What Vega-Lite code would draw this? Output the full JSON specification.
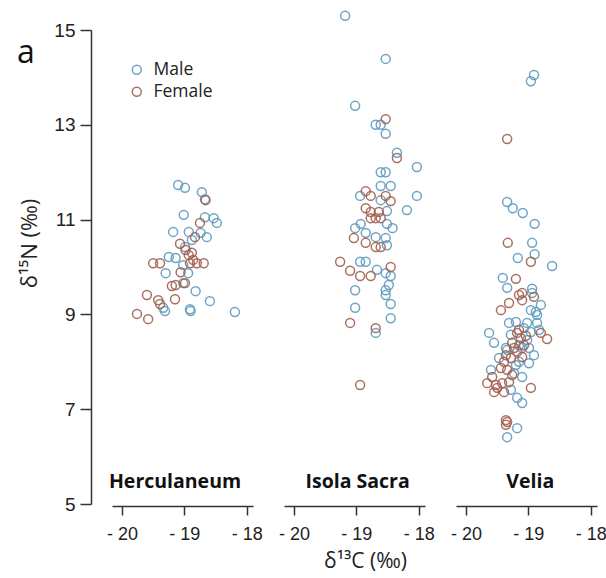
{
"$schema": "https://vega.github.io/schema/vega-lite/v6.json",
"padding": {"left": 17, "top": 8, "right": 0, "bottom": 12},
"config": {"view": {"stroke": null}, "font": "Liberation Sans"},
"spacing": 15,
"datasets": {"pts": [
{"site":"Herculaneum","sex":"Male","d13C":-19.10,"d15N":11.73},{"site":"Herculaneum","sex":"Male","d13C":-18.99,"d15N":11.67},{"site":"Herculaneum","sex":"Male","d13C":-18.72,"d15N":11.58},{"site":"Herculaneum","sex":"Male","d13C":-18.67,"d15N":11.43},{"site":"Herculaneum","sex":"Male","d13C":-19.01,"d15N":11.10},{"site":"Herculaneum","sex":"Male","d13C":-18.67,"d15N":11.05},{"site":"Herculaneum","sex":"Male","d13C":-18.53,"d15N":11.03},{"site":"Herculaneum","sex":"Male","d13C":-18.48,"d15N":10.93},{"site":"Herculaneum","sex":"Male","d13C":-19.18,"d15N":10.74},{"site":"Herculaneum","sex":"Male","d13C":-18.93,"d15N":10.74},{"site":"Herculaneum","sex":"Male","d13C":-18.64,"d15N":10.63},{"site":"Herculaneum","sex":"Male","d13C":-18.74,"d15N":10.72},{"site":"Herculaneum","sex":"Male","d13C":-18.88,"d15N":10.57},{"site":"Herculaneum","sex":"Male","d13C":-18.99,"d15N":10.42},{"site":"Herculaneum","sex":"Male","d13C":-19.25,"d15N":10.21},{"site":"Herculaneum","sex":"Male","d13C":-19.14,"d15N":10.19},{"site":"Herculaneum","sex":"Male","d13C":-19.02,"d15N":10.04},{"site":"Herculaneum","sex":"Male","d13C":-19.30,"d15N":9.87},{"site":"Herculaneum","sex":"Male","d13C":-18.94,"d15N":9.87},{"site":"Herculaneum","sex":"Male","d13C":-19.02,"d15N":9.66},{"site":"Herculaneum","sex":"Male","d13C":-18.82,"d15N":9.49},{"site":"Herculaneum","sex":"Male","d13C":-19.34,"d15N":9.14},{"site":"Herculaneum","sex":"Male","d13C":-19.31,"d15N":9.07},{"site":"Herculaneum","sex":"Male","d13C":-18.91,"d15N":9.11},{"site":"Herculaneum","sex":"Male","d13C":-18.90,"d15N":9.07},{"site":"Herculaneum","sex":"Male","d13C":-18.59,"d15N":9.28},{"site":"Herculaneum","sex":"Male","d13C":-18.19,"d15N":9.05},
{"site":"Herculaneum","sex":"Female","d13C":-18.66,"d15N":11.41},{"site":"Herculaneum","sex":"Female","d13C":-18.75,"d15N":10.93},{"site":"Herculaneum","sex":"Female","d13C":-18.83,"d15N":10.63},{"site":"Herculaneum","sex":"Female","d13C":-19.07,"d15N":10.49},{"site":"Herculaneum","sex":"Female","d13C":-18.98,"d15N":10.36},{"site":"Herculaneum","sex":"Female","d13C":-18.93,"d15N":10.25},{"site":"Herculaneum","sex":"Female","d13C":-18.88,"d15N":10.30},{"site":"Herculaneum","sex":"Female","d13C":-19.50,"d15N":10.08},{"site":"Herculaneum","sex":"Female","d13C":-19.39,"d15N":10.08},{"site":"Herculaneum","sex":"Female","d13C":-18.91,"d15N":10.08},{"site":"Herculaneum","sex":"Female","d13C":-18.80,"d15N":10.08},{"site":"Herculaneum","sex":"Female","d13C":-18.69,"d15N":10.08},{"site":"Herculaneum","sex":"Female","d13C":-19.06,"d15N":9.89},{"site":"Herculaneum","sex":"Female","d13C":-19.20,"d15N":9.60},{"site":"Herculaneum","sex":"Female","d13C":-19.14,"d15N":9.62},{"site":"Herculaneum","sex":"Female","d13C":-18.99,"d15N":9.66},{"site":"Herculaneum","sex":"Female","d13C":-19.60,"d15N":9.41},{"site":"Herculaneum","sex":"Female","d13C":-19.42,"d15N":9.30},{"site":"Herculaneum","sex":"Female","d13C":-19.39,"d15N":9.22},{"site":"Herculaneum","sex":"Female","d13C":-19.15,"d15N":9.32},{"site":"Herculaneum","sex":"Female","d13C":-19.76,"d15N":9.01},{"site":"Herculaneum","sex":"Female","d13C":-19.58,"d15N":8.90},{"site":"Herculaneum","sex":"Female","d13C":-18.86,"d15N":10.15},
{"site":"Isola Sacra","sex":"Male","d13C":-19.18,"d15N":15.30},{"site":"Isola Sacra","sex":"Male","d13C":-18.53,"d15N":14.39},{"site":"Isola Sacra","sex":"Male","d13C":-19.02,"d15N":13.40},{"site":"Isola Sacra","sex":"Male","d13C":-18.69,"d15N":13.00},{"site":"Isola Sacra","sex":"Male","d13C":-18.61,"d15N":13.00},{"site":"Isola Sacra","sex":"Male","d13C":-18.53,"d15N":12.81},{"site":"Isola Sacra","sex":"Male","d13C":-18.35,"d15N":12.41},{"site":"Isola Sacra","sex":"Male","d13C":-18.03,"d15N":12.11},{"site":"Isola Sacra","sex":"Male","d13C":-18.61,"d15N":12.00},{"site":"Isola Sacra","sex":"Male","d13C":-18.53,"d15N":12.00},{"site":"Isola Sacra","sex":"Male","d13C":-18.61,"d15N":11.71},{"site":"Isola Sacra","sex":"Male","d13C":-18.45,"d15N":11.71},{"site":"Isola Sacra","sex":"Male","d13C":-18.03,"d15N":11.50},{"site":"Isola Sacra","sex":"Male","d13C":-18.94,"d15N":11.50},{"site":"Isola Sacra","sex":"Male","d13C":-18.51,"d15N":11.18},{"site":"Isola Sacra","sex":"Male","d13C":-18.19,"d15N":11.20},{"site":"Isola Sacra","sex":"Male","d13C":-18.93,"d15N":10.91},{"site":"Isola Sacra","sex":"Male","d13C":-18.51,"d15N":10.91},{"site":"Isola Sacra","sex":"Male","d13C":-19.02,"d15N":10.82},{"site":"Isola Sacra","sex":"Male","d13C":-18.42,"d15N":10.82},{"site":"Isola Sacra","sex":"Male","d13C":-18.85,"d15N":10.72},{"site":"Isola Sacra","sex":"Male","d13C":-18.69,"d15N":10.63},{"site":"Isola Sacra","sex":"Male","d13C":-18.53,"d15N":10.61},{"site":"Isola Sacra","sex":"Male","d13C":-18.51,"d15N":10.46},{"site":"Isola Sacra","sex":"Male","d13C":-18.94,"d15N":10.11},{"site":"Isola Sacra","sex":"Male","d13C":-18.85,"d15N":10.11},{"site":"Isola Sacra","sex":"Male","d13C":-18.67,"d15N":9.94},{"site":"Isola Sacra","sex":"Male","d13C":-18.53,"d15N":9.87},{"site":"Isola Sacra","sex":"Male","d13C":-18.45,"d15N":9.81},{"site":"Isola Sacra","sex":"Male","d13C":-19.02,"d15N":9.51},{"site":"Isola Sacra","sex":"Male","d13C":-18.53,"d15N":9.51},{"site":"Isola Sacra","sex":"Male","d13C":-18.48,"d15N":9.62},{"site":"Isola Sacra","sex":"Male","d13C":-18.53,"d15N":9.41},{"site":"Isola Sacra","sex":"Male","d13C":-19.02,"d15N":9.14},{"site":"Isola Sacra","sex":"Male","d13C":-18.45,"d15N":9.22},{"site":"Isola Sacra","sex":"Male","d13C":-18.45,"d15N":8.92},{"site":"Isola Sacra","sex":"Male","d13C":-18.69,"d15N":8.61},{"site":"Isola Sacra","sex":"Male","d13C":-18.61,"d15N":11.41},
{"site":"Isola Sacra","sex":"Female","d13C":-18.53,"d15N":13.12},{"site":"Isola Sacra","sex":"Female","d13C":-18.35,"d15N":12.30},{"site":"Isola Sacra","sex":"Female","d13C":-18.85,"d15N":11.60},{"site":"Isola Sacra","sex":"Female","d13C":-18.77,"d15N":11.50},{"site":"Isola Sacra","sex":"Female","d13C":-18.53,"d15N":11.50},{"site":"Isola Sacra","sex":"Female","d13C":-18.45,"d15N":11.39},{"site":"Isola Sacra","sex":"Female","d13C":-18.85,"d15N":11.24},{"site":"Isola Sacra","sex":"Female","d13C":-18.77,"d15N":11.03},{"site":"Isola Sacra","sex":"Female","d13C":-18.69,"d15N":11.03},{"site":"Isola Sacra","sex":"Female","d13C":-18.61,"d15N":11.03},{"site":"Isola Sacra","sex":"Female","d13C":-18.77,"d15N":11.16},{"site":"Isola Sacra","sex":"Female","d13C":-18.64,"d15N":11.16},{"site":"Isola Sacra","sex":"Female","d13C":-19.04,"d15N":10.61},{"site":"Isola Sacra","sex":"Female","d13C":-18.85,"d15N":10.51},{"site":"Isola Sacra","sex":"Female","d13C":-18.69,"d15N":10.42},{"site":"Isola Sacra","sex":"Female","d13C":-18.61,"d15N":10.42},{"site":"Isola Sacra","sex":"Female","d13C":-19.26,"d15N":10.11},{"site":"Isola Sacra","sex":"Female","d13C":-19.10,"d15N":9.92},{"site":"Isola Sacra","sex":"Female","d13C":-18.94,"d15N":9.81},{"site":"Isola Sacra","sex":"Female","d13C":-18.77,"d15N":9.81},{"site":"Isola Sacra","sex":"Female","d13C":-18.45,"d15N":10.00},{"site":"Isola Sacra","sex":"Female","d13C":-19.10,"d15N":8.82},{"site":"Isola Sacra","sex":"Female","d13C":-18.69,"d15N":8.71},{"site":"Isola Sacra","sex":"Female","d13C":-18.94,"d15N":7.51},
{"site":"Velia","sex":"Male","d13C":-18.91,"d15N":14.05},{"site":"Velia","sex":"Male","d13C":-18.96,"d15N":13.92},{"site":"Velia","sex":"Male","d13C":-19.34,"d15N":11.37},{"site":"Velia","sex":"Male","d13C":-19.25,"d15N":11.24},{"site":"Velia","sex":"Male","d13C":-19.09,"d15N":11.14},{"site":"Velia","sex":"Male","d13C":-18.90,"d15N":10.91},{"site":"Velia","sex":"Male","d13C":-18.94,"d15N":10.51},{"site":"Velia","sex":"Male","d13C":-18.90,"d15N":10.27},{"site":"Velia","sex":"Male","d13C":-19.17,"d15N":10.19},{"site":"Velia","sex":"Male","d13C":-18.62,"d15N":10.02},{"site":"Velia","sex":"Male","d13C":-19.41,"d15N":9.77},{"site":"Velia","sex":"Male","d13C":-19.34,"d15N":9.56},{"site":"Velia","sex":"Male","d13C":-18.94,"d15N":9.54},{"site":"Velia","sex":"Male","d13C":-18.94,"d15N":9.45},{"site":"Velia","sex":"Male","d13C":-18.96,"d15N":9.09},{"site":"Velia","sex":"Male","d13C":-18.80,"d15N":9.20},{"site":"Velia","sex":"Male","d13C":-18.86,"d15N":8.99},{"site":"Velia","sex":"Male","d13C":-18.88,"d15N":9.05},{"site":"Velia","sex":"Male","d13C":-19.31,"d15N":8.82},{"site":"Velia","sex":"Male","d13C":-19.20,"d15N":8.84},{"site":"Velia","sex":"Male","d13C":-19.02,"d15N":8.82},{"site":"Velia","sex":"Male","d13C":-18.86,"d15N":8.82},{"site":"Velia","sex":"Male","d13C":-19.63,"d15N":8.61},{"site":"Velia","sex":"Male","d13C":-18.96,"d15N":8.63},{"site":"Velia","sex":"Male","d13C":-18.83,"d15N":8.67},{"site":"Velia","sex":"Male","d13C":-19.55,"d15N":8.40},{"site":"Velia","sex":"Male","d13C":-18.99,"d15N":8.29},{"site":"Velia","sex":"Male","d13C":-19.10,"d15N":8.29},{"site":"Velia","sex":"Male","d13C":-19.36,"d15N":8.29},{"site":"Velia","sex":"Male","d13C":-19.34,"d15N":8.25},{"site":"Velia","sex":"Male","d13C":-19.47,"d15N":8.08},{"site":"Velia","sex":"Male","d13C":-18.99,"d15N":7.97},{"site":"Velia","sex":"Male","d13C":-19.15,"d15N":8.00},{"site":"Velia","sex":"Male","d13C":-19.20,"d15N":7.93},{"site":"Velia","sex":"Male","d13C":-19.23,"d15N":7.76},{"site":"Velia","sex":"Male","d13C":-19.10,"d15N":7.68},{"site":"Velia","sex":"Male","d13C":-19.28,"d15N":7.41},{"site":"Velia","sex":"Male","d13C":-19.18,"d15N":7.24},{"site":"Velia","sex":"Male","d13C":-19.10,"d15N":7.13},{"site":"Velia","sex":"Male","d13C":-19.18,"d15N":6.60},{"site":"Velia","sex":"Male","d13C":-19.34,"d15N":6.41},{"site":"Velia","sex":"Male","d13C":-19.60,"d15N":7.83},{"site":"Velia","sex":"Male","d13C":-19.02,"d15N":8.46},{"site":"Velia","sex":"Male","d13C":-18.91,"d15N":8.14},{"site":"Velia","sex":"Male","d13C":-19.28,"d15N":8.57},{"site":"Velia","sex":"Male","d13C":-19.07,"d15N":8.71},{"site":"Velia","sex":"Male","d13C":-19.15,"d15N":8.35},
{"site":"Velia","sex":"Female","d13C":-19.34,"d15N":12.70},{"site":"Velia","sex":"Female","d13C":-19.33,"d15N":10.51},{"site":"Velia","sex":"Female","d13C":-18.96,"d15N":10.11},{"site":"Velia","sex":"Female","d13C":-19.20,"d15N":9.75},{"site":"Velia","sex":"Female","d13C":-19.10,"d15N":9.45},{"site":"Velia","sex":"Female","d13C":-19.15,"d15N":9.41},{"site":"Velia","sex":"Female","d13C":-18.91,"d15N":9.37},{"site":"Velia","sex":"Female","d13C":-19.31,"d15N":9.24},{"site":"Velia","sex":"Female","d13C":-19.44,"d15N":9.09},{"site":"Velia","sex":"Female","d13C":-19.10,"d15N":9.30},{"site":"Velia","sex":"Female","d13C":-19.18,"d15N":8.61},{"site":"Velia","sex":"Female","d13C":-19.12,"d15N":8.50},{"site":"Velia","sex":"Female","d13C":-18.80,"d15N":8.61},{"site":"Velia","sex":"Female","d13C":-18.70,"d15N":8.48},{"site":"Velia","sex":"Female","d13C":-19.26,"d15N":8.40},{"site":"Velia","sex":"Female","d13C":-19.07,"d15N":8.35},{"site":"Velia","sex":"Female","d13C":-19.18,"d15N":8.21},{"site":"Velia","sex":"Female","d13C":-19.39,"d15N":8.00},{"site":"Velia","sex":"Female","d13C":-19.28,"d15N":8.08},{"site":"Velia","sex":"Female","d13C":-19.10,"d15N":8.10},{"site":"Velia","sex":"Female","d13C":-19.44,"d15N":7.87},{"site":"Velia","sex":"Female","d13C":-19.34,"d15N":7.83},{"site":"Velia","sex":"Female","d13C":-19.58,"d15N":7.68},{"site":"Velia","sex":"Female","d13C":-19.66,"d15N":7.55},{"site":"Velia","sex":"Female","d13C":-19.52,"d15N":7.51},{"site":"Velia","sex":"Female","d13C":-19.42,"d15N":7.55},{"site":"Velia","sex":"Female","d13C":-19.31,"d15N":7.57},{"site":"Velia","sex":"Female","d13C":-19.55,"d15N":7.36},{"site":"Velia","sex":"Female","d13C":-19.39,"d15N":7.36},{"site":"Velia","sex":"Female","d13C":-18.96,"d15N":7.45},{"site":"Velia","sex":"Female","d13C":-19.36,"d15N":6.77},{"site":"Velia","sex":"Female","d13C":-19.36,"d15N":6.67},{"site":"Velia","sex":"Female","d13C":-19.34,"d15N":6.73},{"site":"Velia","sex":"Female","d13C":-19.23,"d15N":8.29},{"site":"Velia","sex":"Female","d13C":-19.15,"d15N":8.67},{"site":"Velia","sex":"Female","d13C":-19.36,"d15N":8.14},{"site":"Velia","sex":"Female","d13C":-19.50,"d15N":7.45},{"site":"Velia","sex":"Female","d13C":-19.26,"d15N":7.72},{"site":"Velia","sex":"Female","d13C":-19.04,"d15N":8.55}
]},
"hconcat": [
{"width": 141, "height": 474,
 "layer": [
  {"data": {"name": "pts"}, "transform": [{"filter": "datum.site === 'Herculaneum'"}],
   "mark": {"type": "point", "shape": "circle", "filled": false, "size": 80, "strokeWidth": 1.5, "opacity": 0.9},
   "encoding": {
    "x": {"field": "d13C", "type": "quantitative", "scale": {"domain": [-20.16, -17.9], "nice": false, "zero": false},
      "axis": {"values": [-20, -19, -18], "offset": 2, "domainColor": "#333", "domainWidth": 1.5, "tickColor": "#333", "tickWidth": 1.5, "tickSize": 9, "labelFontSize": 18, "labelColor": "#222", "labelPadding": 10, "labelFlush": false, "labelExpr": "'- ' + abs(datum.value)", "grid": false, "title": null}},
    "y": {"field": "d15N", "type": "quantitative", "scale": {"domain": [5, 15], "nice": false, "zero": false},
      "axis": {"values": [5, 7, 9, 11, 13, 15], "offset": 21, "domainColor": "#333", "domainWidth": 1.5, "tickColor": "#333", "tickWidth": 1.5, "tickSize": 11, "labelFontSize": 19, "labelColor": "#222", "labelPadding": 5, "labelFlush": false, "grid": false, "title": "δ¹⁵N (‰)", "titleFont": "Open Sans", "titleFontSize": 22, "titleFontWeight": "normal", "titleColor": "#222", "titlePadding": 12, "titleY": 213}},
    "color": {"field": "sex", "type": "nominal", "scale": {"domain": ["Male", "Female"], "range": ["#5f9bbf", "#a3604e"]},
      "legend": {"title": null, "orient": "none", "legendX": 16, "legendY": 31, "padding": 0, "symbolType": "circle", "symbolSize": 80, "symbolStrokeWidth": 1.5, "labelFont": "Open Sans", "labelFontSize": 17.5, "labelColor": "#222", "rowPadding": 3, "labelOffset": 8}}
   }},
  {"data": {"values": [{"label": "Herculaneum"}]},
   "mark": {"type": "text", "font": "Open Sans", "fontWeight": "bold", "fontSize": 19.5, "baseline": "alphabetic", "color": "#111"},
   "encoding": {"text": {"field": "label"}, "x": {"datum": -19.15}, "y": {"datum": 5.34}}},
  {"data": {"values": [{"label": "a"}]},
   "mark": {"type": "text", "font": "Open Sans", "fontSize": 32, "baseline": "alphabetic", "color": "#111"},
   "encoding": {"text": {"field": "label"}, "x": {"datum": -21.54}, "y": {"datum": 14.3}}}
 ]},
{"width": 141, "height": 474,
 "layer": [
  {"data": {"name": "pts"}, "transform": [{"filter": "datum.site === 'Isola Sacra'"}],
   "mark": {"type": "point", "shape": "circle", "filled": false, "size": 80, "strokeWidth": 1.5, "opacity": 0.9},
   "encoding": {
    "x": {"field": "d13C", "type": "quantitative", "scale": {"domain": [-20.16, -17.9], "nice": false, "zero": false},
      "axis": {"values": [-20, -19, -18], "offset": 2, "domainColor": "#333", "domainWidth": 1.5, "tickColor": "#333", "tickWidth": 1.5, "tickSize": 9, "labelFontSize": 18, "labelColor": "#222", "labelPadding": 10, "labelFlush": false, "labelExpr": "'- ' + abs(datum.value)", "grid": false, "title": "δ¹³C (‰)", "titleFont": "Open Sans", "titleFontSize": 21, "titleFontWeight": "normal", "titleColor": "#222", "titlePadding": 7, "titleX": 81}},
    "y": {"field": "d15N", "type": "quantitative", "scale": {"domain": [5, 15], "nice": false, "zero": false}, "axis": null},
    "color": {"field": "sex", "type": "nominal", "scale": {"domain": ["Male", "Female"], "range": ["#5f9bbf", "#a3604e"]}}
   }},
  {"data": {"values": [{"label": "Isola Sacra"}]},
   "mark": {"type": "text", "font": "Open Sans", "fontWeight": "bold", "fontSize": 19.5, "baseline": "alphabetic", "color": "#111"},
   "encoding": {"text": {"field": "label"}, "x": {"datum": -18.98}, "y": {"datum": 5.34}}}
 ]},
{"width": 141, "height": 474,
 "layer": [
  {"data": {"name": "pts"}, "transform": [{"filter": "datum.site === 'Velia'"}],
   "mark": {"type": "point", "shape": "circle", "filled": false, "size": 80, "strokeWidth": 1.5, "opacity": 0.9},
   "encoding": {
    "x": {"field": "d13C", "type": "quantitative", "scale": {"domain": [-20.16, -17.9], "nice": false, "zero": false},
      "axis": {"values": [-20, -19, -18], "offset": 2, "domainColor": "#333", "domainWidth": 1.5, "tickColor": "#333", "tickWidth": 1.5, "tickSize": 9, "labelFontSize": 18, "labelColor": "#222", "labelPadding": 10, "labelFlush": false, "labelExpr": "'- ' + abs(datum.value)", "grid": false, "title": null}},
    "y": {"field": "d15N", "type": "quantitative", "scale": {"domain": [5, 15], "nice": false, "zero": false}, "axis": null},
    "color": {"field": "sex", "type": "nominal", "scale": {"domain": ["Male", "Female"], "range": ["#5f9bbf", "#a3604e"]}}
   }},
  {"data": {"values": [{"label": "Velia"}]},
   "mark": {"type": "text", "font": "Open Sans", "fontWeight": "bold", "fontSize": 19.5, "baseline": "alphabetic", "color": "#111"},
   "encoding": {"text": {"field": "label"}, "x": {"datum": -18.97}, "y": {"datum": 5.34}}}
 ]}
],
"resolve": {"scale": {"color": "shared"}, "legend": {"color": "shared"}}
}
